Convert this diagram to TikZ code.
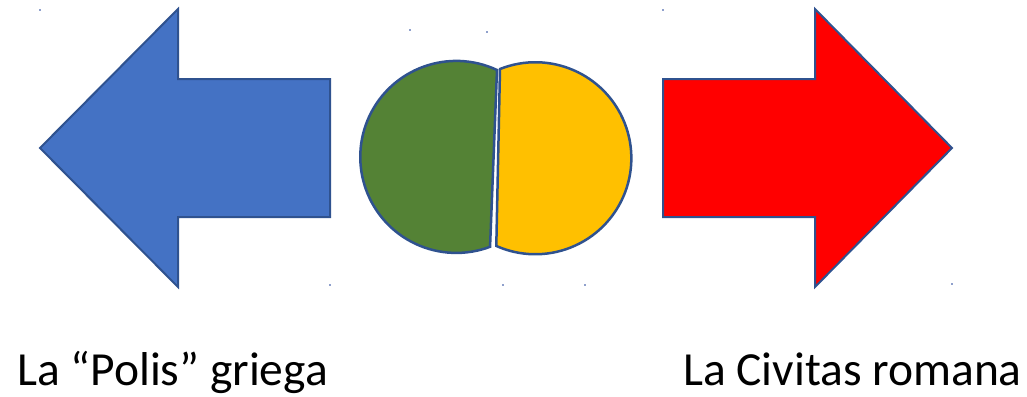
\documentclass[tikz,border=0pt]{standalone}
\usepackage{fontspec}
\setmainfont{Carlito}
\definecolor{officeblue}{HTML}{4472C4}
\definecolor{edgeblue}{HTML}{2F528F}
\definecolor{leafgreen}{HTML}{548235}
\definecolor{goldyellow}{HTML}{FFC000}
\definecolor{dotgrey}{HTML}{8FA0CC}
\begin{document}
\begin{tikzpicture}[x=1pt,y=-1pt,
  figureshape/.style={draw=edgeblue,line width=2pt,line join=miter},
  captiontext/.style={inner sep=0pt,font=\fontsize{47.5}{50}\selectfont},
  handlemark/.style={fill=dotgrey}]
\useasboundingbox (0,0) rectangle (1027,396);
% left arrow
\draw[figureshape,fill=officeblue] (40,148) -- (178,9) -- (178,79) -- (330,79) -- (330,217) -- (178,217) -- (178,287) -- cycle;
% right arrow
\draw[figureshape,fill=red] (952,148) -- (815,9) -- (815,79) -- (663,79) -- (663,217) -- (815,217) -- (815,287) -- cycle;
% green half
\draw[figureshape,line width=2.5pt,fill=leafgreen] (497,70) arc[start angle=-64.9,end angle=-290.6,radius=96] -- cycle;
% yellow half
\draw[figureshape,line width=2.5pt,fill=goldyellow] (500,69) arc[start angle=-111.6,end angle=114,radius=96] -- cycle;
% labels
\node[captiontext,anchor=base west] (polis) at (17,385) {La “Polis” griega};
\node[captiontext,anchor=base east] (civitas) at (1022,385) {La Civitas romana};
% tiny handle marks
\foreach \p in {(40,10),(330,285),(503,285),(585,285),(410,30),(487,32),(663,10),(952,284)}
  \fill[handlemark] \p ++(-0.8,-1.2) rectangle ++(1.6,2.4);
\end{tikzpicture}
\end{document}
